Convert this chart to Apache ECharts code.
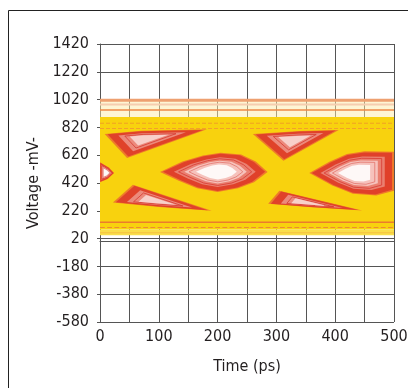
<!DOCTYPE html>
<html style='height: 100%'>
<head>
    <meta charset='utf-8'>
</head>
<body style='height: 100%; margin: 0; background: #fff'>
    <div id='container' style='width: 408px; height: 388px'></div>
    <script type='text/javascript' src='https://cdn.jsdelivr.net/npm/echarts@6/dist/echarts.min.js'></script>
    <script type="text/javascript">
// axes: time in ps, voltage in mV
var timeMin = 0, timeMax = 500, timeStep = 50;
var voltMin = -580, voltMax = 1420, voltStep = 200;

// solid yellow trace envelope and the paler bands round it
var envelope = [[0, 895], [500, 895], [500, 85], [0, 85]];
var lowBand = [[0, 85], [500, 85], [500, 45], [0, 45]];
var topBand = [[0, 1020], [500, 1020], [500, 895], [0, 895]];

// eye openings
var eyeMain = [[102, 500], [140, 574], [175, 618], [205, 638], [240, 625], [265, 574], [285, 500], [262, 426], [235, 382], [200, 356], [165, 382], [133, 438]];
var eyeRight = [[356, 492], [390, 572], [420, 628], [450, 648], [500, 645], [500, 365], [470, 330], [430, 342], [395, 402]];
var eyeLeft = [[0, 570], [15, 532], [24, 492], [13, 448], [0, 425]];
// gaps between the trace bundles
var upperLeft = [[8, 772], [70, 796], [182, 806], [46, 600]];
var upperMid = [[260, 772], [340, 794], [406, 802], [312, 580]];
var lowerLeft = [[56, 408], [22, 280], [100, 248], [190, 220]];
var lowerRight = [[305, 365], [286, 270], [360, 246], [446, 222]];
var eyes = [eyeMain, eyeRight, eyeLeft];
var gaps = [upperLeft, upperMid, lowerLeft, lowerRight];

// horizontal rail traces (mV)
var railLevels = [1016, 985, 945, 850, 812, 138, 100, 62];

var dom = document.getElementById("container");
var myChart = echarts.init(dom);

function polySeries(list, fill, z) {
    return {
        type: 'custom',
        z: z,
        silent: true,
        data: list.map(function (s, i) { return [s[0][0], s[0][1], i]; }),
        encode: {x: 0, y: 1},
        renderItem: function (params, api) {
            var pts = list[api.value(2)].map(function (p) { return api.coord(p); });
            return {type: 'polygon', shape: {points: pts}, style: {fill: fill}};
        }
    };
}

// each opening is drawn as nested rings shrunk towards its centre
function layeredSeries(list, layers, z) {
    return {
        type: 'custom',
        z: z,
        silent: true,
        data: list.map(function (s, i) { return [s[0][0], s[0][1], i]; }),
        encode: {x: 0, y: 1},
        renderItem: function (params, api) {
            var pts = list[api.value(2)].map(function (p) { return api.coord(p); });
            var cx = 0, cy = 0;
            pts.forEach(function (p) { cx += p[0]; cy += p[1]; });
            cx /= pts.length; cy /= pts.length;
            var children = layers.map(function (l) {
                var sp = pts.map(function (p) { return [cx + (p[0] - cx) * l.k, cy + (p[1] - cy) * l.k]; });
                if (l.stroke) {
                    return {type: 'polygon', shape: {points: sp}, style: {fill: null, stroke: l.stroke, lineWidth: l.w}};
                }
                return {type: 'polygon', shape: {points: sp}, style: {fill: l.fill}};
            });
            return {type: 'group', children: children};
        }
    };
}

var eyeLayers = [
    {k: 1.0, fill: '#f07a2a'},
    {k: 0.95, fill: '#e0402a'},
    {k: 0.76, fill: '#ea7f70'},
    {k: 0.68, stroke: '#d83a32', w: 0.8},
    {k: 0.58, fill: '#f6c2bc'},
    {k: 0.5, stroke: '#e06a62', w: 0.7},
    {k: 0.38, fill: 'rgba(255,255,255,0.88)'}
];
var gapLayers = [
    {k: 1.0, fill: '#ee7c2a'},
    {k: 0.93, fill: '#e0422a'},
    {k: 0.66, fill: '#ec8a7c'},
    {k: 0.5, stroke: '#d63a30', w: 0.8},
    {k: 0.38, fill: '#f8d0ca'}
];

var railStyles = [
    {color: '#eea070', width: 3},
    {color: '#f6cdb0', width: 2},
    {color: '#ee8a46', width: 1.5},
    {color: '#f0a024', width: 1, type: 'dashed'},
    {color: '#f2a02a', width: 1, type: 'dashed'},
    {color: '#ec7c2c', width: 1.5},
    {color: '#ee8a30', width: 1.2, type: 'dashed'},
    {color: '#f4c040', width: 1.2}
];

var series = [
    polySeries([envelope], '#f8d20e', 1),
    polySeries([lowBand], '#f9de4a', 1),
    polySeries([topBand], 'rgba(253,236,170,0.5)', 1),
    layeredSeries(eyes, eyeLayers, 2),
    layeredSeries(gaps, gapLayers, 2)
];
railLevels.forEach(function (v, i) {
    series.push({
        type: 'line',
        z: 3,
        silent: true,
        symbol: 'none',
        data: [[timeMin, v], [timeMax, v]],
        lineStyle: railStyles[i]
    });
});

var font = "'DejaVu Sans Condensed', 'Liberation Sans', sans-serif";
var gridColor = '#555';

var option = {
    animation: false,
    graphic: [{
        type: 'rect',
        shape: {x: 8.5, y: 10.5, width: 420, height: 400},
        style: {fill: null, stroke: '#222', lineWidth: 1},
        silent: true
    }],
    grid: {left: 100, right: 14, top: 44, bottom: 66, outerBoundsMode: 'none'},
    xAxis: {
        type: 'value',
        min: timeMin,
        max: timeMax,
        interval: timeStep,
        name: 'Time (ps)',
        nameLocation: 'middle',
        nameGap: 37,
        nameTextStyle: {fontFamily: font, fontSize: 16, color: '#231f20'},
        axisLine: {show: true, lineStyle: {color: gridColor, width: 1}},
        axisTick: {show: true, length: 4, lineStyle: {color: gridColor}},
        axisLabel: {
            margin: 7,
            fontFamily: font,
            fontSize: 16,
            color: '#231f20',
            formatter: function (v) { return v % 100 === 0 ? String(v) : ''; }
        },
        splitLine: {show: true, lineStyle: {color: gridColor, width: 1}}
    },
    yAxis: {
        type: 'value',
        min: voltMin,
        max: voltMax,
        interval: voltStep,
        name: 'Voltage -mV-',
        nameLocation: 'middle',
        nameGap: 58,
        nameMoveOverlap: false,
        nameTextStyle: {fontFamily: font, fontSize: 16, color: '#231f20'},
        axisLine: {show: true, lineStyle: {color: gridColor, width: 1}},
        axisTick: {show: true, length: 3, lineStyle: {color: gridColor}},
        axisLabel: {
            margin: 11,
            fontFamily: font,
            fontSize: 16,
            color: '#231f20',
            formatter: function (v) { return String(v); }
        },
        splitLine: {show: true, lineStyle: {color: gridColor, width: 1}}
    },
    series: series
};
myChart.setOption(option, true);
    </script>
</body>
</html>
